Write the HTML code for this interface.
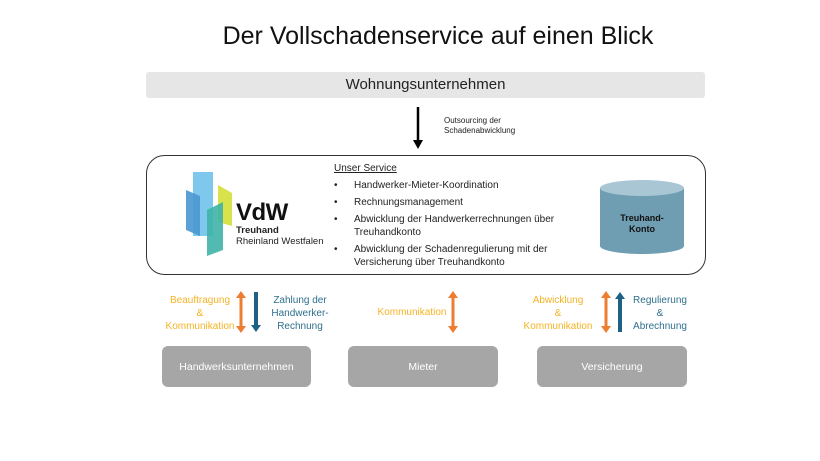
<!DOCTYPE html>
<html><head><meta charset="utf-8"><style>
body{margin:0;width:820px;height:461px;background:#fff;font-family:"Liberation Sans",sans-serif;position:relative;overflow:hidden}
.a{position:absolute}
.t{font-size:10px;line-height:13px}
.box{position:absolute;background:#a6a6a6;border-radius:6px;color:#fff;font-size:10.5px;display:flex;align-items:center;justify-content:center}
.or{color:#f5b324;text-align:center;font-size:10px;line-height:13px}
.bl{color:#2e6f8e;text-align:center;font-size:10px;line-height:13px}
</style></head><body>
<div class="a" style="left:0;width:876px;top:22px;text-align:center;font-size:25px;color:#111">Der Vollschadenservice auf einen Blick</div>
<div class="a" style="left:146px;top:72px;width:559px;height:26px;background:#e6e6e6;border-radius:3px;text-align:center;font-size:15px;line-height:26px;color:#222">Wohnungsunternehmen</div>
<svg class="a" style="left:0;top:0" width="820" height="461">
<line x1="418" y1="107" x2="418" y2="141" stroke="#000" stroke-width="2.5"/>
<path d="M413,140L423,140L418,149z" fill="#000"/>
<rect x="146.5" y="155.5" width="559" height="119" rx="18" fill="none" stroke="#333" stroke-width="1"/>
<polygon points="193,172 213,172 213,236 193,236" fill="#7dc8ec"/>
<polygon points="186,190 200,196 200,236 186,230" fill="#4a97d1" opacity="0.9"/>
<polygon points="218,185 232,193 232,226 218,222" fill="#d8e24a"/>
<polygon points="207,210 223,202 223,250 207,256" fill="#3fb3a8" opacity="0.9"/>
<path d="M600,188 L600,246 A42,8 0 0 0 684,246 L684,188z" fill="#6f9db2"/>
<ellipse cx="642" cy="188" rx="42" ry="8" fill="#a9c6d4"/>
<g fill="#ed7d31">
<path d="M241,291L236,298L239.5,298L239.5,326L236,326L241,333L246,326L242.5,326L242.5,298L246,298z"/>
<path d="M453,291L448,298L451.5,298L451.5,326L448,326L453,333L458,326L454.5,326L454.5,298L458,298z"/>
<path d="M606,291L601,298L604.5,298L604.5,326L601,326L606,333L611,326L607.5,326L607.5,298L611,298z"/>
</g>
<g fill="#1f6185">
<path d="M254,292L258,292L258,325L261,325L256,332L251,325L254,325z"/>
<path d="M618,332L622,332L622,299L625,299L620,292L615,299L618,299z"/>
</g>
</svg>
<div class="a" style="left:444px;top:116px;font-size:8px;line-height:10px;color:#222">Outsourcing der<br>Schadenabwicklung</div>
<div class="a" style="left:236px;top:199px;font-size:24px;font-weight:bold;color:#111;letter-spacing:-0.5px">VdW</div>
<div class="a" style="left:236px;top:225px;font-size:9.5px;line-height:11px;color:#222"><b>Treuhand</b><br>Rheinland Westfalen</div>
<div class="a t" style="left:334px;top:162px;color:#222;text-decoration:underline">Unser Service</div>
<div class="a t" style="left:334px;top:179px;color:#222">•</div><div class="a t" style="left:354px;top:179px;color:#222">Handwerker-Mieter-Koordination</div>
<div class="a t" style="left:334px;top:196px;color:#222">•</div><div class="a t" style="left:354px;top:196px;color:#222">Rechnungsmanagement</div>
<div class="a t" style="left:334px;top:213px;color:#222">•</div><div class="a t" style="left:354px;top:213px;color:#222">Abwicklung der Handwerkerrechnungen über<br>Treuhandkonto</div>
<div class="a t" style="left:334px;top:243px;color:#222">•</div><div class="a t" style="left:354px;top:243px;color:#222">Abwicklung der Schadenregulierung mit der<br>Versicherung über Treuhandkonto</div>
<div class="a" style="left:600px;top:213px;width:84px;text-align:center;font-size:9px;line-height:11px;font-weight:bold;color:#111">Treuhand-<br>Konto</div>
<div class="a or" style="left:160px;top:294px;width:80px">Beauftragung<br>&amp;<br>Kommunikation</div>
<div class="a bl" style="left:262px;top:294px;width:76px">Zahlung der<br>Handwerker-<br>Rechnung</div>
<div class="a or" style="left:370px;top:306px;width:84px">Kommunikation</div>
<div class="a or" style="left:516px;top:294px;width:84px">Abwicklung<br>&amp;<br>Kommunikation</div>
<div class="a bl" style="left:626px;top:294px;width:68px">Regulierung<br>&amp;<br>Abrechnung</div>
<div class="box" style="left:162px;top:346px;width:149px;height:41px">Handwerksunternehmen</div>
<div class="box" style="left:348px;top:346px;width:150px;height:41px">Mieter</div>
<div class="box" style="left:537px;top:346px;width:150px;height:41px">Versicherung</div>
</body></html>
